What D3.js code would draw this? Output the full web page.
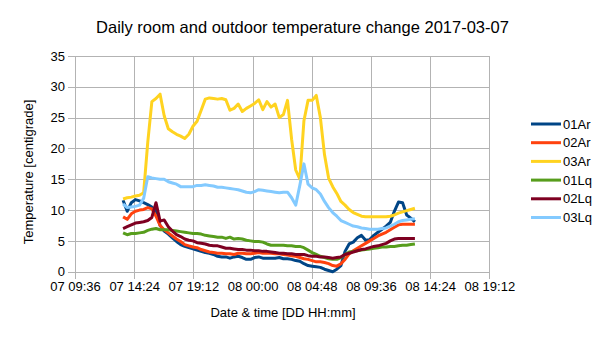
<!DOCTYPE html>
<html>
<head>
<meta charset="utf-8">
<script src="https://cdn.jsdelivr.net/npm/d3@7"></script>
<style>
  html, body { margin: 0; padding: 0; background: #fff; }
  svg { display: block; font-family: "Liberation Sans", Arial, sans-serif; }
</style>
</head>
<body>
<svg id="chart" width="605" height="340"></svg>
<script>
// Sample timestamps (every 20 minutes), format "DD HH:mm"
const times = [
  "07 13:30","07 13:50","07 14:10","07 14:30","07 14:50","07 15:10","07 15:30","07 15:50",
  "07 16:10","07 16:30","07 16:50","07 17:10","07 17:30","07 17:50","07 18:10","07 18:30",
  "07 18:50","07 19:10","07 19:30","07 19:50","07 20:10","07 20:30","07 20:50","07 21:10",
  "07 21:30","07 21:50","07 22:10","07 22:30","07 22:50","07 23:10","07 23:30","07 23:50",
  "08 00:10","08 00:30","08 00:50","08 01:10","08 01:30","08 01:50","08 02:10","08 02:30",
  "08 02:50","08 03:10","08 03:30","08 03:50","08 04:10","08 04:30","08 04:50","08 05:10",
  "08 05:30","08 05:50","08 06:10","08 06:30","08 06:50","08 07:10","08 07:30","08 07:50",
  "08 08:10","08 08:30","08 08:50","08 09:10","08 09:30","08 09:50","08 10:10","08 10:30",
  "08 10:50","08 11:10","08 11:30","08 11:50","08 12:10","08 12:30","08 12:50","08 13:10"
];

const seriesNames = ["01Ar", "02Ar", "03Ar", "01Lq", "02Lq", "03Lq"];
const seriesColors = ["#004586", "#ff420e", "#ffd320", "#579d1c", "#7e0021", "#83caff"];

const t01Ar = [
  11.6, 9.8, 11.2, 11.7, 11.5, 11.2, 10.9, 10.5, 9.8, 7.5, 6.6, 6.1, 5.5, 4.9, 4.4, 4.1,
  3.9, 3.7, 3.5, 3.3, 3.1, 3.0, 2.8, 2.5, 2.4, 2.4, 2.2, 2.4, 2.5, 2.3, 2.0, 2.0,
  2.3, 2.4, 2.2, 2.2, 2.2, 2.2, 2.3, 2.1, 2.1, 2.0, 1.8, 1.7, 1.3, 1.0, 0.9, 0.8,
  0.7, 0.4, 0.2, 0.0, 0.4, 1.0, 3.3, 4.5, 4.8, 5.5, 5.9, 5.1, 5.2, 5.9, 6.4, 6.9,
  7.4, 8.0, 9.8, 11.3, 11.2, 9.2, 8.7, 8.1
];
const t02Ar = [
  8.9, 8.5, 9.4, 9.8, 10.0, 10.1, 10.4, 10.2, 9.0, 7.5, 6.8, 6.3, 5.8, 5.3, 4.9, 4.4,
  4.2, 4.0, 3.9, 3.6, 3.4, 3.2, 3.1, 3.0, 3.0, 2.9, 2.9, 2.8, 3.0, 3.0, 2.9, 2.9,
  3.0, 3.1, 3.0, 3.0, 3.0, 2.9, 2.9, 2.8, 2.7, 2.6, 2.5, 2.3, 2.1, 2.0, 1.8, 1.6,
  1.6, 1.5, 1.3, 1.0, 0.9, 1.3, 2.0, 2.9, 3.4, 3.8, 4.2, 4.6, 5.0, 5.4, 5.8, 6.1,
  6.4, 6.8, 7.2, 7.6, 7.7, 7.7, 7.7, 7.7
];
const t03Ar = [
  11.8, 12.0, 12.1, 12.3, 12.4, 12.8, 21.0, 27.6, 28.1, 28.8, 25.3, 23.2, 22.7, 22.3, 22.0, 21.6,
  22.3, 23.6, 24.4, 26.2, 28.0, 28.2, 28.1, 28.0, 28.1, 27.9, 26.2, 26.5, 27.2, 26.0, 26.5, 26.9,
  27.3, 27.9, 26.3, 27.6, 26.7, 27.2, 25.0, 25.5, 27.8, 21.5, 16.5, 15.0, 24.5, 27.8, 27.8, 28.6,
  25.0, 19.0, 15.2, 13.8, 12.7, 11.4, 10.8, 10.1, 9.6, 9.3, 9.0, 8.9, 8.9, 8.9, 8.9, 8.9,
  8.9, 9.0, 9.2, 9.5, 9.7, 9.9, 10.1, 10.3
];
const t01Lq = [
  6.3, 6.0, 6.2, 6.2, 6.3, 6.4, 6.7, 6.9, 7.0, 6.8, 6.8, 6.8, 6.7, 6.6, 6.5, 6.4,
  6.3, 6.2, 6.2, 6.1, 5.9, 5.8, 5.7, 5.6, 5.6, 5.4, 5.6, 5.3, 5.4, 5.3, 5.1, 5.0,
  4.9, 4.9, 4.8, 4.5, 4.3, 4.3, 4.3, 4.3, 4.2, 4.2, 4.1, 4.1, 3.9, 3.5, 3.1, 2.8,
  2.5, 2.3, 2.1, 2.0, 2.0, 2.3, 2.8, 3.2, 3.3, 3.4, 3.5, 3.6, 3.7, 3.8, 3.9, 4.0,
  4.0, 4.1, 4.1, 4.2, 4.3, 4.3, 4.4, 4.5
];
const t02Lq = [
  7.0, 7.3, 7.6, 7.9, 8.0, 8.1, 8.3, 8.8, 11.2, 8.2, 8.4, 7.3, 6.6, 6.0, 5.7, 5.3,
  5.1, 5.0, 4.7, 4.6, 4.5, 4.3, 4.2, 4.2, 4.0, 3.8, 3.8, 3.7, 3.6, 3.6, 3.5, 3.5,
  3.4, 3.4, 3.3, 3.3, 3.2, 3.1, 3.0, 3.0, 2.9, 2.9, 2.8, 2.8, 2.8, 2.6, 2.5, 2.5,
  2.4, 2.4, 2.3, 2.2, 2.3, 2.4, 2.8, 3.0, 3.2, 3.4, 3.6, 3.7, 3.9, 4.1, 4.2, 4.4,
  4.6, 5.0, 5.3, 5.4, 5.4, 5.4, 5.4, 5.4
];
const t03Lq = [
  11.0, 10.4, 10.5, 10.6, 10.8, 11.9, 15.4, 15.2, 15.1, 15.0, 15.0, 14.6, 14.4, 14.2, 13.8, 13.8,
  13.8, 13.8, 14.0, 14.0, 14.1, 14.0, 13.9, 13.7, 13.7, 13.6, 13.5, 13.4, 13.3, 13.1, 12.9, 12.8,
  13.0, 13.3, 13.2, 13.1, 13.0, 12.9, 12.8, 12.9, 12.9, 12.0, 10.8, 14.0, 17.5, 14.2, 13.6, 13.3,
  12.6, 11.4, 10.4, 9.6, 9.0, 8.3, 8.0, 7.7, 7.4, 7.3, 7.1, 7.0, 6.9, 6.9, 6.9, 7.0,
  7.1, 7.4, 7.7, 8.1, 8.3, 8.4, 8.5, 8.6
];
const seriesValues = [t01Ar, t02Ar, t03Ar, t01Lq, t02Lq, t03Lq];

const xTickLabels = ["07 09:36", "07 14:24", "07 19:12", "08 00:00", "08 04:48", "08 09:36", "08 14:24", "08 19:12"];
const yTicks = [0, 5, 10, 15, 20, 25, 30, 35];

const parseTime = d3.utcParse("%d %H:%M");
const fmtTime = d3.utcFormat("%d %H:%M");

const svg = d3.select("#chart");
const plot = { left: 75, right: 489.3, top: 56, bottom: 271.7 };
const gridColor = "#b3b3b3";

const xTickDates = xTickLabels.map(parseTime);
const x = d3.scaleUtc()
  .domain([xTickDates[0], xTickDates[xTickDates.length - 1]])
  .range([plot.left, plot.right]);
const y = d3.scaleLinear()
  .domain([0, 35])
  .range([plot.bottom, plot.top]);

// Grid lines
const grid = svg.append("g").attr("stroke", gridColor).attr("stroke-width", 1).attr("shape-rendering", "crispEdges");
grid.selectAll("line.h").data(yTicks).join("line")
  .attr("x1", plot.left).attr("x2", plot.right)
  .attr("y1", d => Math.round(y(d)) + 0.5).attr("y2", d => Math.round(y(d)) + 0.5);
grid.selectAll("line.v").data(xTickDates).join("line")
  .attr("y1", plot.top).attr("y2", plot.bottom)
  .attr("x1", d => Math.round(x(d)) + 0.5).attr("x2", d => Math.round(x(d)) + 0.5);

// Axes
const yAxis = d3.axisLeft(y).tickValues(yTicks).tickSizeInner(7).tickSizeOuter(0).tickPadding(3);
const xAxis = d3.axisBottom(x).tickValues(xTickDates).tickFormat(fmtTime).tickSizeInner(7).tickSizeOuter(0).tickPadding(3);

const gy = svg.append("g").attr("transform", `translate(${plot.left},0)`).call(yAxis);
const gx = svg.append("g").attr("transform", `translate(0,${plot.bottom})`).call(xAxis);
[gx, gy].forEach(g => {
  g.selectAll("path, line").attr("stroke", gridColor).attr("shape-rendering", "crispEdges");
  g.selectAll("text").attr("fill", "#000").style("font-size", "13px").style("font-family", "Liberation Sans, Arial, sans-serif");
});

// Series lines
const pts = times.map(parseTime);
const line = d3.line()
  .x((d, i) => x(pts[i]))
  .y(d => y(d));

svg.append("g").selectAll("path")
  .data(seriesValues)
  .join("path")
  .attr("fill", "none")
  .attr("stroke", (d, i) => seriesColors[i])
  .attr("stroke-width", 3)
  .attr("stroke-linejoin", "round")
  .attr("d", line);

// Titles
svg.append("text")
  .attr("x", 302.5).attr("y", 33)
  .attr("text-anchor", "middle")
  .style("font-size", "16.5px")
  .text("Daily room and outdoor temperature change 2017-03-07");

svg.append("text")
  .attr("x", 283).attr("y", 317)
  .attr("text-anchor", "middle")
  .style("font-size", "13px")
  .text("Date & time [DD HH:mm]");

svg.append("text")
  .attr("transform", "translate(33,172) rotate(-90)")
  .attr("text-anchor", "middle")
  .style("font-size", "13px")
  .text("Temperature [centigrade]");

// Legend
const legend = svg.append("g").attr("transform", "translate(531,124)");
const rows = legend.selectAll("g").data(seriesNames).join("g")
  .attr("transform", (d, i) => `translate(0,${i * 18.7})`);
rows.append("line")
  .attr("x1", 0).attr("x2", 30).attr("y1", 0).attr("y2", 0)
  .attr("stroke", (d, i) => seriesColors[i]).attr("stroke-width", 3);
rows.append("text")
  .attr("x", 32).attr("y", 0).attr("dy", "0.35em")
  .style("font-size", "13px")
  .text(d => d);
</script>
</body>
</html>
